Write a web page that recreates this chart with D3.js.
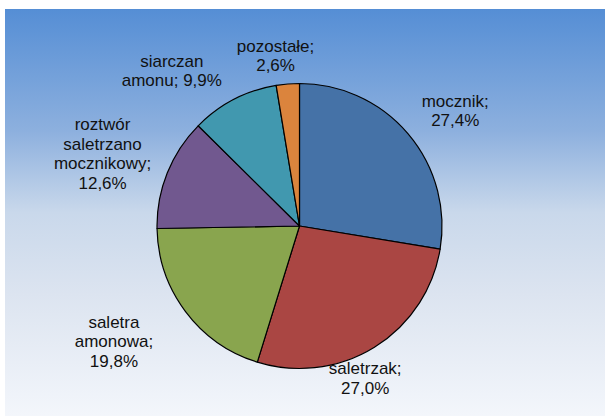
<!DOCTYPE html>
<html>
<head>
<meta charset="utf-8">
<script src="https://cdn.jsdelivr.net/npm/d3@7"></script>
<style>
  html, body { margin: 0; padding: 0; background: #fff; }
  svg { display: block; }
</style>
</head>
<body>
<svg width="605" height="416"></svg>
<script>
// data (percent shares, clockwise from 12 o'clock)
var categories = ['mocznik', 'saletrzak', 'saletra amonowa', 'roztwór saletrzano mocznikowy', 'siarczan amonu', 'pozostałe'];
var shares = [27.4, 27.0, 19.8, 12.6, 9.9, 2.6];
var shareLabels = ['27,4%', '27,0%', '19,8%', '12,6%', '9,9%', '2,6%'];
var labelLines = [
  ['mocznik;', '27,4%'],
  ['saletrzak;', '27,0%'],
  ['saletra', 'amonowa;', '19,8%'],
  ['roztwór', 'saletrzano', 'mocznikowy;', '12,6%'],
  ['siarczan', 'amonu; 9,9%'],
  ['pozostałe;', '2,6%']
];
var colors = ['#4572A7', '#AA4643', '#89A54E', '#71588F', '#4198AF', '#DB843D'];

// layout: nudge of each label from its outer centroid (x, first baseline)
var labelNudge = [[17, 3.5], [-30, -2], [-40, 7], [-28, -4], [-44, 7], [-9, 12]];

var svg = d3.select('svg');
var cx = 299.5, cy = 226, r = 142.5, labelR = 182, lineH = 19.5;

// background panel with vertical gradient
var grad = svg.append('defs').append('linearGradient')
    .attr('id', 'bg').attr('x1', 0).attr('y1', 0).attr('x2', 0).attr('y2', 1);
[[0, '#558ED5'], [0.3, '#8DB0DE'], [0.5, '#C9D8EB'], [0.7, '#DCE4F0'], [1, '#F3F6FB']].forEach(function(s){
  grad.append('stop').attr('offset', s[0]).attr('stop-color', s[1]);
});
svg.append('rect')
    .attr('x', 5).attr('y', 9).attr('width', 600).attr('height', 407)
    .attr('fill', 'url(#bg)');

var pie = d3.pie().sort(null).value(function(d){ return d; });
var arcs = pie(shares);
var arc = d3.arc().innerRadius(0).outerRadius(r);
var labelArc = d3.arc().innerRadius(labelR).outerRadius(labelR);

var g = svg.append('g').attr('transform', 'translate(' + cx + ',' + cy + ')');

g.selectAll('path.slice')
    .data(arcs)
  .enter().append('path')
    .attr('class', 'slice')
    .attr('d', arc)
    .attr('fill', function(d, i){ return colors[i]; })
    .attr('stroke', '#000')
    .attr('stroke-width', 1.2)
    .attr('stroke-linejoin', 'round');

var labels = g.selectAll('text.lbl')
    .data(arcs)
  .enter().append('text')
    .attr('class', 'lbl')
    .attr('text-anchor', 'middle')
    .attr('font-family', 'Liberation Sans, Arial, sans-serif')
    .attr('font-size', '17px')
    .attr('fill', '#111')
    .attr('transform', function(d, i){
      var c = labelArc.centroid(d);
      var n = labelLines[i].length;
      var x = c[0] + labelNudge[i][0];
      var y = c[1] - (n - 1) * lineH / 2 + 5 + labelNudge[i][1];
      return 'translate(' + x + ',' + y + ')';
    });

labels.selectAll('tspan')
    .data(function(d, i){ return labelLines[i]; })
  .enter().append('tspan')
    .attr('x', 0)
    .attr('dy', function(t, j){ return j === 0 ? 0 : lineH; })
    .text(function(t){ return t; });
</script>
</body>
</html>
